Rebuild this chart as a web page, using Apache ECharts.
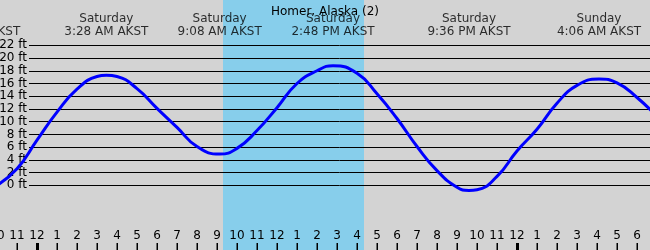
<!DOCTYPE html>
<html>
<head>
<meta charset="utf-8">
<script src="https://cdn.jsdelivr.net/npm/echarts@6/dist/echarts.min.js"></script>
<style>html,body{margin:0;padding:0;background:#d3d3d3;}#c{width:650px;height:250px;}</style>
</head>
<body>
<div id="c"></div>
<script>
// ---- data ----
const titleText = 'Homer, Alaska (2)';
const hours  = [-2, -1, 0, 1, 2, 3, 3.47, 4, 5, 6, 7, 8, 9.13, 10, 11, 12, 13, 14, 14.8, 16, 17, 18, 19, 20, 21, 21.6, 22, 23, 24, 25, 26, 27, 28.1, 29, 30, 31];
const tideFt = [0.0, 2.6, 7.1, 11.5, 15.1, 17.1, 17.3, 17.1, 15.2, 12.1, 9.1, 6.1, 4.9, 5.8, 8.6, 12.2, 16.0, 18.0, 18.8, 17.6, 14.4, 10.5, 6.1, 2.3, -0.3, -0.8, -0.7, 1.4, 5.4, 8.8, 12.9, 15.7, 16.7, 16.1, 13.8, 10.8];
const eventTimes  = [-2.917, 3.467, 9.133, 14.8, 21.6, 28.1];
const eventDays   = ['Friday', 'Saturday', 'Saturday', 'Saturday', 'Saturday', 'Sunday'];
const eventClock  = ['9:05 PM AKST', '3:28 AM AKST', '9:08 AM AKST', '2:48 PM AKST', '9:36 PM AKST', '4:06 AM AKST'];
const daylight    = [9.3, 16.35];
const midnights   = [0, 24];
const hourTicks   = [-2, -1, 0, 1, 2, 3, 4, 5, 6, 7, 8, 9, 10, 11, 12, 13, 14, 15, 16, 17, 18, 19, 20, 21, 22, 23, 24, 25, 26, 27, 28, 29, 30, 31];
const hourRange   = [-2, 31];
const hourStep    = 1;
const ftRange     = [0, 22];
const ftStep      = 2;

// ---- layout ----
const H = 250;
const tickLen = 7;
const ft0Y = 185.3, ftTopY = 45.3;
const pxPerFt = (ft0Y - ftTopY) / (ftRange[1] - ftRange[0]);
const yMin2 = ftRange[0] - (H - ft0Y) / pxPerFt;
const yMax2 = ftRange[1] + ftTopY / pxPerFt;
const labelCenterY = 25;
const labelY = yMax2 - labelCenterY / pxPerFt;

const font = 'DejaVu Sans';
const xl = -3, xr = -7;
const chart = echarts.init(document.getElementById('c'));
chart.setOption({
  backgroundColor: '#d3d3d3',
  animation: false,
  textStyle: { fontFamily: font },
  title: {
    text: titleText, left: 'center', top: 0,
    textStyle: { fontFamily: font, fontSize: 12, fontWeight: 'normal', color: '#000', lineHeight: 14 }
  },
  grid: [
    { left: 29, right: 0, top: ftTopY, bottom: H - ft0Y, outerBoundsMode: 'none', containLabel: false },
    { left: xl, right: xr, top: 0, bottom: 0, outerBoundsMode: 'none', containLabel: false },
    { left: xl, right: xr, top: H - tickLen, bottom: 0, outerBoundsMode: 'none', containLabel: false },
    { left: xl, right: xr, top: 0, bottom: tickLen, outerBoundsMode: 'none', containLabel: false }
  ],
  xAxis: [
    { gridIndex: 0, type: 'value', show: false, min: 0, max: 1 },
    {
      gridIndex: 1, type: 'value', min: hourRange[0], max: hourRange[1], interval: hourStep,
      position: 'bottom', z: 5,
      axisLine: { show: false, onZero: false },
      splitLine: { show: false },
      axisTick: { show: false },
      axisLabel: {
        show: true, inside: true, margin: 8, color: '#000', fontSize: 12, fontFamily: font,
        showMinLabel: true, showMaxLabel: true, hideOverlap: false,
        formatter: v => { const h = ((v % 12) + 12) % 12; return String(h === 0 ? 12 : h); }
      }
    },
    {
      gridIndex: 2, type: 'value', min: hourRange[0], max: hourRange[1], interval: hourStep, z: 6,
      axisLine: { show: false, onZero: false }, axisTick: { show: false }, axisLabel: { show: false },
      splitLine: { show: true, lineStyle: { color: '#000', width: 1 } }
    },
    {
      gridIndex: 3, type: 'value', min: hourRange[0], max: hourRange[1],
      position: 'bottom', z: 7,
      axisLine: { show: false, onZero: false },
      splitLine: { show: false },
      axisLabel: { show: false },
      axisTick: { show: true, inside: false, length: tickLen, customValues: midnights, lineStyle: { color: '#000', width: 3 } }
    }
  ],
  yAxis: [
    {
      gridIndex: 0, type: 'value', min: ftRange[0], max: ftRange[1], interval: ftStep, z: 2,
      axisLine: { show: false }, axisTick: { show: false },
      axisLabel: { color: '#000', fontSize: 12, fontFamily: font, margin: 2, formatter: v => v + ' ft' },
      splitLine: { show: true, lineStyle: { color: '#000', width: 1 } }
    },
    { gridIndex: 1, type: 'value', min: yMin2, max: yMax2, show: false },
    { gridIndex: 2, type: 'value', min: 0, max: 1, show: false },
    { gridIndex: 3, type: 'value', min: 0, max: 1, show: false }
  ],
  series: [
    {
      type: 'line', xAxisIndex: 1, yAxisIndex: 1, z: 0, data: [], silent: true,
      markArea: {
        silent: true,
        itemStyle: { color: '#87ceeb', opacity: 1 },
        data: [[{ xAxis: daylight[0] }, { xAxis: daylight[1] }]]
      }
    },
    {
      type: 'line', xAxisIndex: 1, yAxisIndex: 1, z: 4,
      data: hours.map((h, i) => [h, tideFt[i]]),
      smooth: 0.5, showSymbol: false, symbol: 'none',
      lineStyle: { color: '#0000ff', width: 3 }
    },
    {
      type: 'scatter', xAxisIndex: 1, yAxisIndex: 1, z: 5, clip: false, silent: true,
      symbolSize: 0,
      data: eventTimes.map((t, i) => ({ value: [t, labelY], day: eventDays[i], clock: eventClock[i] })),
      label: {
        show: true, position: 'inside', color: '#000', fontSize: 12, fontFamily: font, lineHeight: 13, align: 'center',
        formatter: p => p.data.day + '\n' + p.data.clock
      }
    },
    {
      type: 'bar', xAxisIndex: 2, yAxisIndex: 2, z: 6, silent: true,
      barWidth: 1, itemStyle: { color: '#000' },
      data: hourTicks.map(h => [h, 1])
    }
  ]
});
</script>
</body>
</html>
